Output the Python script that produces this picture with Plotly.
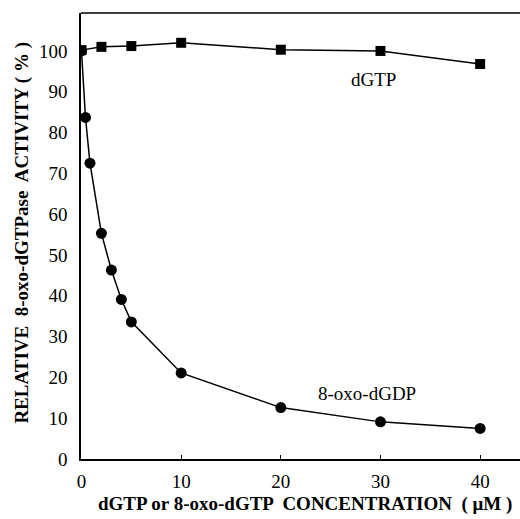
import plotly.graph_objects as go

dgtp_x = [0, 2, 5, 10, 20, 30, 40]
dgtp_y = [100.2, 101.0, 101.2, 102.0, 100.3, 100.0, 96.8]

oxo_x = [0, 0.4, 0.85, 2, 3, 4, 5, 10, 20, 30, 40]
oxo_y = [100.0, 83.7, 72.5, 55.3, 46.3, 39.1, 33.6, 21.1, 12.6, 9.1, 7.5]

x_ticks = [0, 10, 20, 30, 40]
y_ticks = [0, 10, 20, 30, 40, 50, 60, 70, 80, 90, 100]

serif = "serif"

fig = go.Figure()
fig.add_trace(go.Scatter(x=dgtp_x, y=dgtp_y, mode="lines+markers",
                         line=dict(color="black", width=1.5),
                         marker=dict(symbol="square", size=10, color="black"),
                         showlegend=False))
fig.add_trace(go.Scatter(x=oxo_x, y=oxo_y, mode="lines+markers",
                         line=dict(color="black", width=1.5),
                         marker=dict(symbol="circle", size=11, color="black"),
                         showlegend=False))

fig.update_layout(
    width=520, height=519,
    margin=dict(l=81, r=0, t=13, b=60),
    paper_bgcolor="white", plot_bgcolor="white",
    font=dict(family=serif, size=19, color="black"),
    xaxis=dict(range=[-0.05, 44], tickvals=x_ticks, showgrid=False, zeroline=False,
               showline=True, linecolor="black", linewidth=1.5,
               ticks="inside", ticklen=4, tickcolor="black",
               tickfont=dict(family=serif, size=19), ticklabelstandoff=4),
    yaxis=dict(range=[0, 109.3], tickvals=y_ticks, showgrid=False, zeroline=False,
               showline=True, linecolor="black", linewidth=1.5,
               ticks="", tickfont=dict(family=serif, size=19), ticklabelstandoff=8),
    shapes=[dict(type="line", xref="paper", yref="paper", x0=0, x1=1, y0=1, y1=1,
                 line=dict(color="black", width=1.5))],
    annotations=[
        dict(text="dGTP", x=29.3, y=92.9, xref="x", yref="y", showarrow=False,
             font=dict(family=serif, size=19)),
        dict(text="8-oxo-dGDP", x=28.6, y=16.1, xref="x", yref="y", showarrow=False,
             font=dict(family=serif, size=19)),
        dict(text="<b>RELATIVE  8-oxo-dGTPase  ACTIVITY ( % )</b>", textangle=-90,
             x=-0.134, y=0.508, xref="paper", yref="paper", showarrow=False,
             xanchor="center", yanchor="middle", font=dict(family=serif, size=19)),
        dict(text="<b>dGTP or 8-oxo-dGTP  CONCENTRATION  ( μM )</b>",
             x=0.51, y=-0.1, xref="paper", yref="paper", showarrow=False,
             xanchor="center", yanchor="middle", font=dict(family=serif, size=19)),
    ],
)

fig.write_html("out.html")
